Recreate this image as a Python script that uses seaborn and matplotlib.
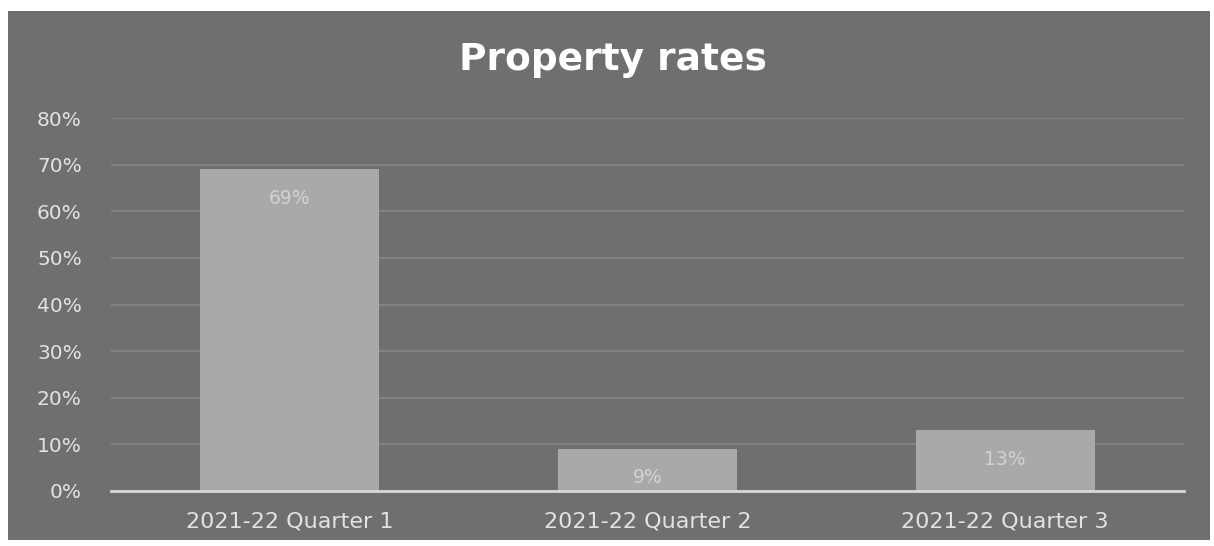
import matplotlib
matplotlib.use("Agg")
import matplotlib.pyplot as plt
import matplotlib.patches as mpatches
import seaborn as sns

# Property rates collected per quarter (share of annual total)
quarters = ["2021-22 Quarter 1", "2021-22 Quarter 2", "2021-22 Quarter 3"]
rates = [0.69, 0.09, 0.13]
rate_labels = ["69%", "9%", "13%"]
y_ticks = [0.0, 0.1, 0.2, 0.3, 0.4, 0.5, 0.6, 0.7, 0.8]
y_tick_labels = ["0%", "10%", "20%", "30%", "40%", "50%", "60%", "70%", "80%"]

panel_bg = "#6f6f6f"
bar_color = "#a9a9a9"
grid_color = "#878787"
text_color = "#e2e2e2"

sns.set_theme(style="dark")
plt.rcParams["font.family"] = ["DejaVu Sans"]

fig = plt.figure(figsize=(12.14, 5.46), dpi=100, facecolor="white")
# dark chart panel inset inside a thin white margin
fig.patches.append(mpatches.Rectangle((8 / 1214, 6 / 546), 1202 / 1214, 529 / 546,
                                      transform=fig.transFigure, facecolor=panel_bg,
                                      edgecolor="none", zorder=-10))

ax = fig.add_axes([111 / 1214, 55 / 546, 1073 / 1214, 373 / 546])
ax.set_facecolor("none")
ax.set_zorder(1)

sns.barplot(x=quarters, y=rates, color=bar_color, saturation=1, width=0.5,
            linewidth=0, ax=ax, zorder=3)

ax.set_xlim(-0.5, 2.5)
ax.set_ylim(0, 0.8)
ax.set_yticks(y_ticks)
ax.set_yticklabels(y_tick_labels)
ax.yaxis.grid(True, color=grid_color, linewidth=1.2, zorder=0)
ax.xaxis.grid(False)
ax.set_axisbelow(True)
for side in ["top", "right", "left"]:
    ax.spines[side].set_visible(False)
ax.spines["bottom"].set_visible(True)
ax.spines["bottom"].set_color("#d8d8d8")
ax.spines["bottom"].set_linewidth(2)
ax.spines["bottom"].set_zorder(4)

ax.tick_params(axis="y", colors=text_color, labelsize=14.5, length=0, pad=21)
ax.tick_params(axis="x", colors=text_color, labelsize=16, length=0, pad=15)
ax.set_xlabel("")
ax.set_ylabel("")

for i, (v, lab) in enumerate(zip(rates, rate_labels)):
    ax.annotate(lab, (i, v), xytext=(0, -14), textcoords="offset points",
                ha="center", va="top", fontsize=13.5, color="#d2d2d2", zorder=5)

fig.text(0.505, 0.89, "Property rates", ha="center", va="center",
         fontsize=27, fontweight="bold", color="white", zorder=5)

fig.savefig("out.png", dpi=100, facecolor="white")
